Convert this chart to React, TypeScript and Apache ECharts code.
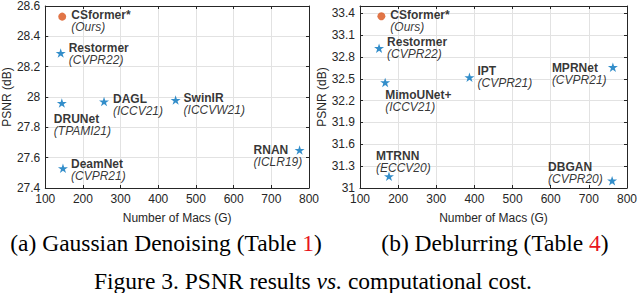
import React, { useEffect, useRef } from 'react';
import * as echarts from 'echarts';

// ---- Data (a) Gaussian Denoising ----
const denoiseNames = ['CSformer*', 'Restormer', 'DRUNet', 'DAGL', 'SwinIR', 'RNAN', 'DeamNet'];
const denoiseVenues = ['(Ours)', '(CVPR22)', '(TPAMI21)', '(ICCV21)', '(ICCVW21)', '(ICLR19)', '(CVPR21)'];
const denoiseMacs = [145, 141, 144, 256, 446, 775, 147];
const denoisePSNR = [28.53, 28.29, 27.96, 27.97, 27.98, 27.65, 27.53];

// ---- Data (b) Deblurring ----
const deblurNames = ['CSformer*', 'Restormer', 'MimoUNet+', 'IPT', 'MPRNet', 'MTRNN', 'DBGAN'];
const deblurVenues = ['(Ours)', '(CVPR22)', '(ICCV21)', '(CVPR21)', '(CVPR21)', '(ECCV20)', '(CVPR20)'];
const deblurMacs = [156, 150, 166, 387, 763, 176, 761];
const deblurPSNR = [33.36, 32.92, 32.45, 32.52, 32.66, 31.16, 31.1];

// axis ranges
const denoiseYBase = 27.4;
const denoiseYMax = 28.6;
const denoiseYStep = 0.2;
const deblurYBase = 31;
const deblurYMax = 33.5;
const deblurYStep = 0.3;
const macsMin = 100;
const macsMax = 800;
const macsStep = 100;

// label placement (pixels, relative to marker centre)
const denoiseLabelDx = [9, 8, -8, 9, 8, -46, 8];
const denoiseLabelDy = [-2, -5, 16, -3, -2, 0, -4];
const deblurLabelDx = [9, 8, 0, 8, -61, -13, -64];
const deblurLabelDy = [-1, -6, 13, -6, 1, -20, -14];

const FONT = 'Liberation Sans, Arial, Helvetica, sans-serif';
const SERIF = 'Liberation Serif, Times New Roman, serif';
const AXC = '#262626';
const GRIDC = '#e2e2e2';
const LH = 12;
const STAR =
  'path://M0,-10L2.245,-3.09L9.511,-3.09L3.633,1.18L5.878,8.09L0,3.82L-5.878,8.09L-3.633,1.18L-9.511,-3.09L-2.245,-3.09Z';

const rich = {
  n: { fontFamily: FONT, fontSize: 12, fontWeight: 'bold', color: '#000', lineHeight: LH },
  v: { fontFamily: FONT, fontSize: 12, fontStyle: 'italic', color: '#000', lineHeight: LH },
};

function makeData(
  names: string[], venues: string[], xs: number[], ys: number[], base: number,
  dxs: number[], dys: number[]
) {
  return names.map((n, i) => ({
    value: [xs[i], ys[i] - base],
    symbol: i === 0 ? 'circle' : STAR,
    symbolSize: i === 0 ? 8 : 10,
    symbolKeepAspect: true,
    itemStyle: { color: i === 0 ? '#D95319' : '#0072BD' },
    label: {
      show: true,
      position: 'inside',
      align: 'left',
      verticalAlign: 'top',
      offset: [dxs[i], dys[i] - LH / 2],
      color: '#000',
      textBorderWidth: 0,
      formatter: `{n|${n}}\n{v|${venues[i]}}`,
      rich,
    },
  }));
}

const fmt = (base: number) => (v: number) => String(parseFloat((v + base).toFixed(2)));

function xAxes(gridIndex: number) {
  const common = { type: 'value', gridIndex, min: macsMin, max: macsMax, interval: macsStep };
  const line = { show: true, onZero: false, lineStyle: { color: AXC, width: 1 } };
  const tick = { show: true, inside: true, length: 3, lineStyle: { color: AXC } };
  return [
    {
      ...common,
      position: 'bottom',
      name: 'Number of Macs (G)',
      nameLocation: 'middle',
      nameGap: 24,
      nameTextStyle: { color: AXC, fontSize: 12, fontFamily: FONT },
      axisLine: line,
      axisTick: tick,
      axisLabel: { color: AXC, fontSize: 12, fontFamily: FONT, margin: 5 },
      splitLine: { show: true, lineStyle: { color: GRIDC, width: 1 } },
    },
    {
      ...common,
      position: 'top',
      axisLine: line,
      axisTick: tick,
      axisLabel: { show: false },
      splitLine: { show: false },
    },
  ];
}

function yAxes(gridIndex: number, base: number, max: number, step: number, showMax: boolean) {
  const common = { type: 'value', gridIndex, min: 0, max: parseFloat((max - base).toFixed(4)), interval: step };
  const line = { show: true, onZero: false, lineStyle: { color: AXC, width: 1 } };
  const tick = { show: true, inside: true, length: 3, lineStyle: { color: AXC } };
  return [
    {
      ...common,
      position: 'left',
      name: 'PSNR (dB)',
      nameLocation: 'middle',
      nameGap: 25,
      nameTextStyle: { color: AXC, fontSize: 12, fontFamily: FONT },
      axisLine: line,
      axisTick: tick,
      axisLabel: { color: AXC, fontSize: 12, fontFamily: FONT, margin: 5, formatter: fmt(base), showMaxLabel: showMax },
      splitLine: { show: true, lineStyle: { color: GRIDC, width: 1 } },
    },
    {
      ...common,
      position: 'right',
      axisLine: line,
      axisTick: tick,
      axisLabel: { show: false },
      splitLine: { show: false },
    },
  ];
}

export default function App() {
  const ref = useRef<HTMLDivElement>(null);
  useEffect(() => {
    if (!ref.current) return;
    const chart = echarts.init(ref.current, null, { renderer: 'svg' });
    chart.setOption({
      animation: false,
      backgroundColor: '#fff',
      grid: [
        { left: 42, right: 331, top: 6, bottom: 105 },
        { left: 360, right: 9, top: 6, bottom: 105 },
      ],
      xAxis: [...xAxes(0), ...xAxes(1)],
      yAxis: [
        ...yAxes(0, denoiseYBase, denoiseYMax, denoiseYStep, true),
        ...yAxes(1, deblurYBase, deblurYMax, deblurYStep, false),
      ],
      series: [
        {
          type: 'scatter',
          xAxisIndex: 0,
          yAxisIndex: 0,
          data: makeData(denoiseNames, denoiseVenues, denoiseMacs, denoisePSNR, denoiseYBase, denoiseLabelDx, denoiseLabelDy),
        },
        {
          type: 'scatter',
          xAxisIndex: 2,
          yAxisIndex: 2,
          data: makeData(deblurNames, deblurVenues, deblurMacs, deblurPSNR, deblurYBase, deblurLabelDx, deblurLabelDy),
        },
      ],
      graphic: [
        {
          type: 'text',
          x: 166,
          y: 243,
          style: {
            text: '(a) Gaussian Denoising (Table {r|1})',
            fontFamily: SERIF,
            fontSize: 23.5,
            fill: '#000',
            textAlign: 'center',
            textVerticalAlign: 'middle',
            rich: { r: { fontFamily: SERIF, fontSize: 23.5, fill: '#e8141c' } },
          },
        },
        {
          type: 'text',
          x: 495,
          y: 243,
          style: {
            text: '(b) Deblurring (Table {r|4})',
            fontFamily: SERIF,
            fontSize: 23.5,
            fill: '#000',
            textAlign: 'center',
            textVerticalAlign: 'middle',
            rich: { r: { fontFamily: SERIF, fontSize: 23.5, fill: '#e8141c' } },
          },
        },
        {
          type: 'text',
          x: 313,
          y: 281,
          style: {
            text: 'Figure 3. PSNR results {i|vs.} computational cost.',
            fontFamily: SERIF,
            fontSize: 23.5,
            fill: '#000',
            textAlign: 'center',
            textVerticalAlign: 'middle',
            rich: { i: { fontFamily: SERIF, fontSize: 23.5, fontStyle: 'italic', fill: '#000' } },
          },
        },
      ],
    });
    return () => chart.dispose();
  }, []);
  return <div ref={ref} style={{ width: 640, height: 293, position: 'absolute', left: 0, top: 0 }} />;
}
